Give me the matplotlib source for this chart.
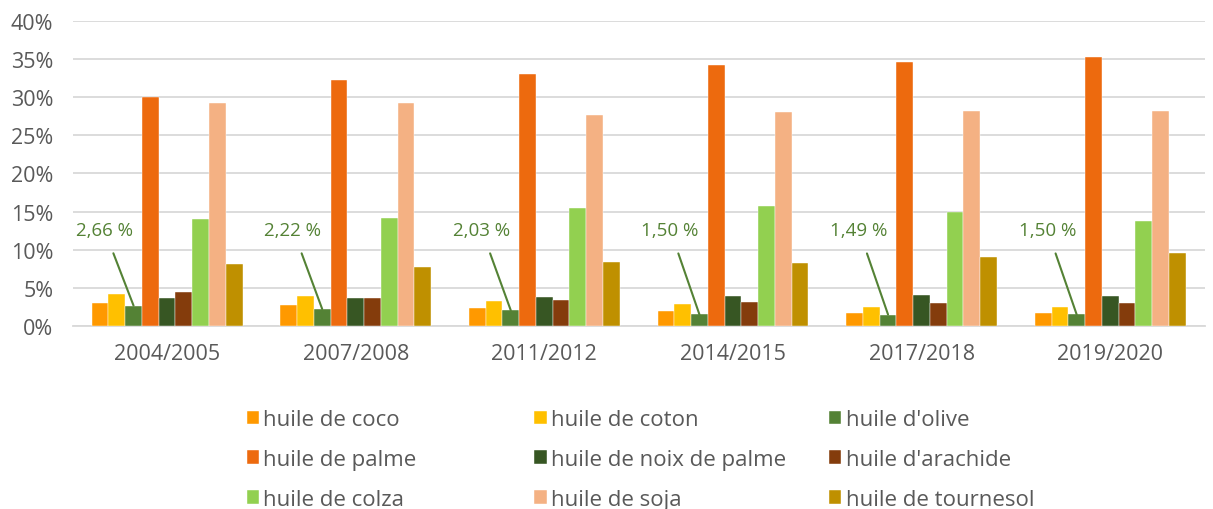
import matplotlib
matplotlib.use("Agg")
import matplotlib.pyplot as plt
import numpy as np
from matplotlib.ticker import FuncFormatter

# data
periods = ["2004/2005", "2007/2008", "2011/2012", "2014/2015", "2017/2018", "2019/2020"]
oils = ["huile de coco", "huile de coton", "huile d'olive",
        "huile de palme", "huile de noix de palme", "huile d'arachide",
        "huile de colza", "huile de soja", "huile de tournesol"]
coco = [3.0, 2.7, 2.3, 1.9, 1.7, 1.7]
coton = [4.2, 3.9, 3.3, 2.9, 2.5, 2.5]
olive = [2.66, 2.22, 2.03, 1.50, 1.49, 1.50]
palme = [30.0, 32.2, 33.1, 34.2, 34.6, 35.3]
noix_palme = [3.7, 3.7, 3.8, 3.9, 4.0, 3.9]
arachide = [4.5, 3.7, 3.4, 3.2, 3.0, 3.0]
colza = [14.0, 14.2, 15.4, 15.7, 15.0, 13.8]
soja = [29.2, 29.2, 27.7, 28.0, 28.2, 28.2]
tournesol = [8.1, 7.7, 8.4, 8.3, 9.0, 9.5]
olive_labels = ["2,66 %", "2,22 %", "2,03 %", "1,50 %", "1,49 %", "1,50 %"]

series = [coco, coton, olive, palme, noix_palme, arachide, colza, soja, tournesol]
colors = ["#FF9900", "#FFC000", "#548235", "#ED6A0E", "#375623",
          "#843C0C", "#92D050", "#F4B183", "#BF9000"]

plt.rcParams["font.family"] = ["Open Sans", "DejaVu Sans"]
txt = "#595959"

fig = plt.figure(figsize=(12.13, 5.10), dpi=100)
ax = fig.add_axes([0.06, 0.359, 0.933, 0.598])

x = np.arange(len(periods))
n = len(series)
w = 0.8 / n
handles = []
for i, (vals, c, name) in enumerate(zip(series, colors, oils)):
    pos = x + (i - (n - 1) / 2) * w
    b = ax.bar(pos, vals, width=w, color=c, label=name, edgecolor="white", linewidth=0.3, zorder=3)
    handles.append(b)

# labels for olive oil
olive_pos = x + (2 - (n - 1) / 2) * w
for xp, v, lab in zip(olive_pos, olive, olive_labels):
    ax.annotate(lab, xy=(xp, v), xytext=(xp - 0.155, 12.6),
                ha="center", va="center", color="#548235", fontsize=13.5,
                arrowprops=dict(arrowstyle="-", color="#548235", lw=1.5,
                                shrinkA=9, shrinkB=0), zorder=4)

ax.set_ylim(0, 40)
ax.set_xlim(-0.5, len(periods) - 0.5)
ax.set_yticks(np.arange(0, 41, 5))
ax.yaxis.set_major_formatter(FuncFormatter(lambda v, p: f"{v:.0f}%"))
ax.set_xticks(x)
ax.set_xticklabels(periods)
ax.grid(axis="y", color="#D9D9D9", linewidth=1.3, zorder=0)
for s in ["top", "right", "left"]:
    ax.spines[s].set_visible(False)
ax.spines["bottom"].set_color("#D9D9D9")
ax.spines["bottom"].set_linewidth(1.3)
ax.tick_params(axis="both", length=0, colors=txt, labelsize=15.5)
ax.tick_params(axis="x", pad=12)
ax.tick_params(axis="y", pad=14)

# legend: three columns placed separately, filled row by row
col_x = [0.187, 0.424, 0.667]
for k in range(3):
    fig.legend(handles=handles[k::3], labels=oils[k::3], loc="upper left",
               bbox_to_anchor=(col_x[k], 0.235), ncol=1, frameon=False,
               fontsize=16, labelcolor=txt, handlelength=0.55, handleheight=0.55,
               handletextpad=0.2, labelspacing=0.85)

fig.savefig("out.png", dpi=100)
